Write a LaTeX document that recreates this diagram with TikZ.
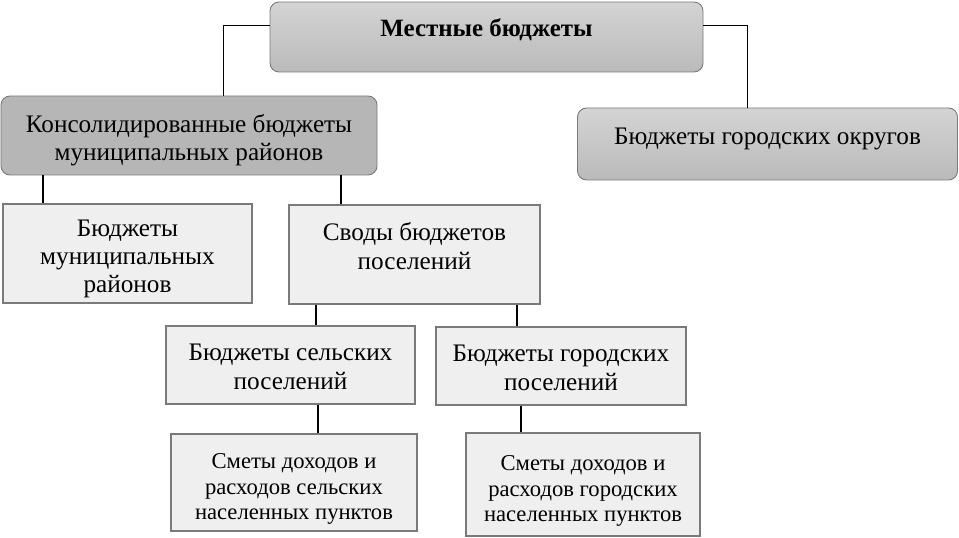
\documentclass[tikz,border=0pt]{standalone}
\usepackage{fontspec}
\setmainfont{Liberation Serif}
\usetikzlibrary{positioning}
\definecolor{darkbox}{HTML}{B6B6B6}
\definecolor{lightbox}{HTML}{EFEFEF}
\definecolor{edgegray}{HTML}{7A7A7A}

\begin{document}
\begin{tikzpicture}[x=1bp,y=-1bp,
  roundbox/.style={draw=edgegray,line width=0.9bp,rounded corners=9bp,top color=black!17,bottom color=black!27},
  darkround/.style={draw=edgegray,line width=0.9bp,rounded corners=9bp,fill=darkbox},
  flatbox/.style={draw=edgegray,line width=1.4bp,fill=lightbox},
  bigtxt/.style={align=center,font=\fontsize{25.3}{28.5}\selectfont},
  smalltxt/.style={align=center,font=\fontsize{22.7}{26}\selectfont},
  link/.style={line width=1.6bp}]
\useasboundingbox (0,0) rectangle (959,538);
% boxes
\node[roundbox,minimum width=433bp,minimum height=70bp] (mb) at (486.5,37) {};
\node[font=\bfseries\fontsize{25}{28}\selectfont] (mbT) at (486.5,30) {Местные бюджеты};
\node[darkround,minimum width=376bp,minimum height=79bp] (kons) at (189,135.5) {};
\node[bigtxt] (konsT) at (189,140) {Консолидированные бюджеты\\муниципальных районов};
\node[roundbox,minimum width=380bp,minimum height=72bp] (go) at (767.5,144) {};
\node[bigtxt] (goT) at (767.5,139) {Бюджеты городских округов};
\node[flatbox,minimum width=249bp,minimum height=99bp] (mr) at (127.5,253.5) {};
\node[bigtxt] (mrT) at (127.5,259) {Бюджеты\\муниципальных\\районов};
\node[flatbox,minimum width=251bp,minimum height=99bp] (svod) at (414.5,254.5) {};
\node[bigtxt] (svodT) at (414.5,246) {Своды бюджетов\\поселений};
\node[flatbox,minimum width=249bp,minimum height=78bp] (sp) at (290.5,365) {};
\node[bigtxt] (spT) at (290.5,367) {Бюджеты сельских\\поселений};
\node[flatbox,minimum width=250bp,minimum height=78bp] (gp) at (561,366) {};
\node[bigtxt] (gpT) at (561,368) {Бюджеты городских\\поселений};
\node[flatbox,minimum width=246bp,minimum height=97bp] (ss) at (294,482.5) {};
\node[smalltxt] (ssT) at (294,489) {Сметы доходов и\\расходов сельских\\населенных пунктов};
\node[flatbox,minimum width=234bp,minimum height=103bp] (sg) at (583,484.5) {};
\node[smalltxt] (sgT) at (583,491) {Сметы доходов и\\расходов городских\\населенных пунктов};
% connectors
\coordinate (cl) at (223,25);
\coordinate (cr) at (747,25);
\draw[line width=0.9bp] (cl -| mb.west) -- (cl) -- (cl |- kons.north);
\draw[line width=0.9bp] (cr -| mb.east) -- (cr) -- (cr |- go.north);
\coordinate (x1) at (43,0);
\coordinate (x2) at (341,0);
\coordinate (x3) at (316,0);
\coordinate (x4) at (517,0);
\coordinate (x5) at (318,0);
\coordinate (x6) at (521,0);
\draw[link] (x1 |- kons.south) -- (x1 |- mr.north);
\draw[link] (x2 |- kons.south) -- (x2 |- svod.north);
\draw[link] (x3 |- svod.south) -- (x3 |- sp.north);
\draw[link] (x4 |- svod.south) -- (x4 |- gp.north);
\draw[link] (x5 |- sp.south) -- (x5 |- ss.north);
\draw[link] (x6 |- gp.south) -- (x6 |- sg.north);
\end{tikzpicture}
\end{document}
